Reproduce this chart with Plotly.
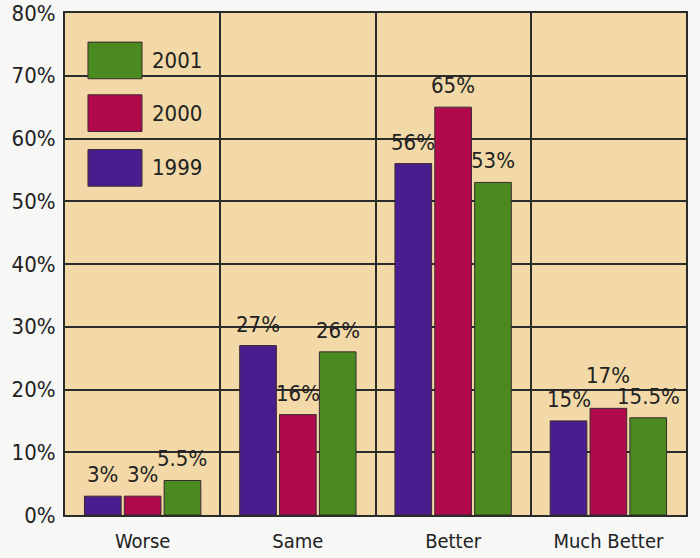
import plotly.graph_objects as go

# categories and values (percent)
categories = ["Worse", "Same", "Better", "Much Better"]
years = ["1999", "2000", "2001"]
values_1999 = [3, 27, 56, 15]
values_2000 = [3, 16, 65, 17]
values_2001 = [5.5, 26, 53, 15.5]
labels_1999 = ["3%", "27%", "56%", "15%"]
labels_2000 = ["3%", "16%", "65%", "17%"]
labels_2001 = ["5.5%", "26%", "53%", "15.5%"]
y_ticks = [0, 10, 20, 30, 40, 50, 60, 70, 80]
y_tick_labels = ["0%", "10%", "20%", "30%", "40%", "50%", "60%", "70%", "80%"]

colors = {"1999": "#4a1d8e", "2000": "#b00a4c", "2001": "#4b8a1f"}
font_name = "DejaVu Sans Condensed, Liberation Sans Narrow, Liberation Sans, Arial"

series = [
    ("1999", values_1999, labels_1999),
    ("2000", values_2000, labels_2000),
    ("2001", values_2001, labels_2001),
]

# figure geometry (pixels) - used to place the value labels over each bar
W, H = 700, 558
M = dict(l=65, r=14, t=13, b=43)
BARGAP = 0.23
cat_px = (W - M["l"] - M["r"]) / len(categories)
slot_px = cat_px * (1 - BARGAP) / len(series)
label_gap = 7
# the 17% label sits higher in the original so it clears 15.5%
label_lift = {("Much Better", "2000"): 11}

fig = go.Figure()
for i, (name, vals, labs) in enumerate(series):
    fig.add_trace(go.Bar(
        x=categories,
        y=vals,
        name=name,
        marker=dict(color=colors[name], line=dict(color="#3a2a30", width=1)),
        showlegend=False,
    ))
    for cat, v, lab in zip(categories, vals, labs):
        fig.add_annotation(
            x=cat, y=v, text=lab, showarrow=False,
            xanchor="center", yanchor="bottom",
            xshift=(i - 1) * slot_px,
            yshift=label_gap + label_lift.get((cat, name), 0),
            font=dict(size=22, color="#222222", family=font_name),
        )

# legend drawn as big boxes like the original (top to bottom: 2001, 2000, 1999)
legend_order = ["2001", "2000", "1999"]
box_tops = [0.942, 0.837, 0.728]
box_h = 0.073
for name, top in zip(legend_order, box_tops):
    fig.add_shape(type="rect", xref="paper", yref="paper",
                  x0=0.037, x1=0.124, y0=top - box_h, y1=top,
                  fillcolor=colors[name], line=dict(color="#3a2a30", width=1))
    fig.add_annotation(x=0.137, y=top - box_h / 2, xref="paper", yref="paper",
                       text=name, showarrow=False, xanchor="left", yanchor="middle",
                       font=dict(size=22, color="#222222", family=font_name))

fig.update_layout(
    width=W,
    height=H,
    margin=M,
    paper_bgcolor="#f7f7f6",
    plot_bgcolor="#f2d9a7",
    barmode="group",
    bargap=BARGAP,
    bargroupgap=0.08,
    font=dict(family=font_name, color="#222222"),
)
fig.update_xaxes(
    type="category",
    tickson="boundaries",
    showgrid=True,
    gridcolor="#2a2a2a",
    gridwidth=1.5,
    showline=True,
    linecolor="#2a2a2a",
    linewidth=2,
    mirror=True,
    ticks="",
    automargin=False,
    ticklabelstandoff=7,
    tickfont=dict(size=20, family=font_name, color="#222222"),
)
fig.update_yaxes(
    range=[0, 80],
    tickvals=y_ticks,
    ticktext=y_tick_labels,
    showgrid=True,
    gridcolor="#2a2a2a",
    gridwidth=1.5,
    showline=True,
    linecolor="#2a2a2a",
    linewidth=2,
    mirror=True,
    ticks="",
    ticklabelstandoff=3,
    ticklabeloverflow="allow",
    zeroline=False,
    automargin=False,
    tickfont=dict(size=22, family=font_name, color="#222222"),
)

# drop the page's default body margin so the figure sits at the window corner
fig.write_html("out.html", config={"displayModeBar": False},
               post_script="document.body.style.margin='0px';")
